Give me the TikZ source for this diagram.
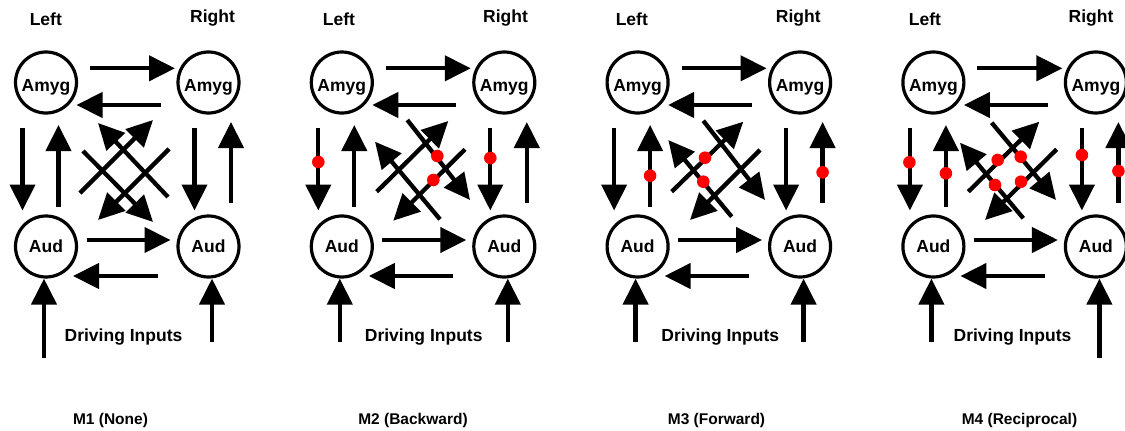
\documentclass[tikz,border=0pt]{standalone}
\usepackage{fontspec}
\setmainfont{Liberation Sans}
\usetikzlibrary{arrows.meta}

\tikzset{
  region/.style={circle, draw, line width=3.2pt, minimum size=61pt, inner sep=0pt,
                 text depth=0pt, font=\bfseries\fontsize{17.5}{20}\selectfont},
  amyg/.style={region, text height=18pt},
  aud/.style={region, text height=12.5pt},
  link/.style={line width=4.3pt, -{Triangle[length=26pt,width=25pt]}},
  modulation/.style={fill=red},
  heading/.style={font=\bfseries\fontsize{17.5}{20}\selectfont, anchor=base, inner sep=0pt},
  caption/.style={font=\bfseries\fontsize{15.5}{18}\selectfont, anchor=base, inner sep=0pt},
}

% Four regions with lateral and ipsilateral connections plus driving inputs.
% #1 name prefix, #2 x of the left column, #3/#4 lower ends of the input arrows
\newcommand\modelcore[4]{%
  \begin{scope}[xshift=#2pt]
    \node[amyg] (#1aL) at (0,82.5) {Amyg};
    \node[amyg] (#1aR) at (162.5,82.5) {Amyg};
    \node[aud]  (#1dL) at (0,246.5) {Aud};
    \node[aud]  (#1dR) at (162.5,246.5) {Aud};
    % interhemispheric connections
    \coordinate (#1ta) at (44,68.3);    \coordinate (#1tb) at (129,68.3);
    \coordinate (#1tc) at (114.5,105);  \coordinate (#1td) at (30.5,105);
    \coordinate (#1ba) at (40.5,240);   \coordinate (#1bb) at (124.5,240);
    \coordinate (#1bc) at (111.5,276);  \coordinate (#1bd) at (27,276);
    \draw[link] (#1ta) -- (#1tb);
    \draw[link] (#1tc) -- (#1td);
    \draw[link] (#1ba) -- (#1bb);
    \draw[link] (#1bc) -- (#1bd);
    % within-hemisphere connections
    \coordinate (#1la) at (-23.5,128);  \coordinate (#1lb) at (-23.5,210.5);
    \coordinate (#1lc) at (12.5,207);   \coordinate (#1ld) at (12.5,125);
    \coordinate (#1ra) at (148.5,128);  \coordinate (#1rb) at (148.5,210.5);
    \coordinate (#1rc) at (185,203);    \coordinate (#1rd) at (185,122);
    \draw[link] (#1la) -- (#1lb);
    \draw[link] (#1lc) -- (#1ld);
    \draw[link] (#1ra) -- (#1rb);
    \draw[link] (#1rc) -- (#1rd);
    % driving inputs
    \coordinate (#1inL) at (-2,#3);
    \coordinate (#1inR) at (166,#4);
    \draw[link] (#1inL) -- (#1inL |- #1dL.south);
    \draw[link] (#1inR) -- (#1inR |- #1dR.south);
  \end{scope}}

\begin{document}
\begin{tikzpicture}[x=1pt, y=-1pt]
\useasboundingbox (0,0) rectangle (1125,431);

% ---------------- M1 ----------------
\modelcore{p}{46}{358}{342}
\begin{scope}[xshift=46pt]
  \coordinate (pura) at (34,193);   \coordinate (purb) at (107,120);
  \coordinate (pdla) at (123,149);  \coordinate (pdlb) at (52,220);
  \coordinate (pdra) at (37,151);   \coordinate (pdrb) at (107,222);
  \coordinate (pula) at (122,197);  \coordinate (pulb) at (52,123);
  \draw[link] (pura) -- (purb);
  \draw[link] (pdla) -- (pdlb);
  \draw[link] (pdra) -- (pdrb);
  \draw[link] (pula) -- (pulb);
\end{scope}
\node[heading] at (45.8,25.5) {Left};
\node[heading] at (212.5,23) {Right};
\node[heading] at (123.5,341.5) {Driving Inputs};
\node[caption] at (110.5,424.5) {M1 (None)};

% ---------------- M2 ----------------
\modelcore{q}{341.8}{342}{342}
\begin{scope}[xshift=341.8pt]
  \coordinate (qura) at (34.9,191.7);  \coordinate (qurb) at (106.5,121);
  \coordinate (qdla) at (123.2,149.3); \coordinate (qdlb) at (51.5,220.7);
  \coordinate (qdra) at (65.5,120);    \coordinate (qdrb) at (128.2,200);
  \coordinate (qula) at (98.2,219.3);  \coordinate (qulb) at (33.2,141.7);
  \draw[link] (qura) -- (qurb);
  \draw[link] (qdla) -- (qdlb);
  \draw[link] (qdra) -- (qdrb);
  \draw[link] (qula) -- (qulb);
  \fill[modulation] (-23.5,162) circle[radius=6.3pt];
  \fill[modulation] (148.5,158) circle[radius=6.3pt];
  \fill[modulation] (95.5,156) circle[radius=6.3pt];
  \fill[modulation] (91.5,180) circle[radius=6.3pt];
\end{scope}
\node[heading] at (339,25.5) {Left};
\node[heading] at (505.5,23) {Right};
\node[heading] at (423.7,341.5) {Driving Inputs};
\node[caption] at (413,424.5) {M2 (Backward)};

% ---------------- M3 ----------------
\modelcore{r}{637.6}{342}{342}
\begin{scope}[xshift=637.6pt]
  \coordinate (rura) at (34.1,191.7);  \coordinate (rurb) at (105.7,121.7);
  \coordinate (rdla) at (122.4,150);   \coordinate (rdlb) at (52.4,220);
  \coordinate (rdra) at (65.7,120.7);  \coordinate (rdrb) at (127.4,200);
  \coordinate (rula) at (94.1,216.7);  \coordinate (rulb) at (30.7,140);
  \draw[link] (rura) -- (rurb);
  \draw[link] (rdla) -- (rdlb);
  \draw[link] (rdra) -- (rdrb);
  \draw[link] (rula) -- (rulb);
  \fill[modulation] (12.5,175.7) circle[radius=6.3pt];
  \fill[modulation] (185,172.3) circle[radius=6.3pt];
  \fill[modulation] (67.4,157.7) circle[radius=6.3pt];
  \fill[modulation] (65.7,181.7) circle[radius=6.3pt];
\end{scope}
\node[heading] at (631.8,25.5) {Left};
\node[heading] at (798.3,23) {Right};
\node[heading] at (720.3,341.5) {Driving Inputs};
\node[caption] at (716.5,424.5) {M3 (Forward)};

% ---------------- M4 ----------------
\modelcore{s}{933.4}{342}{358}
\begin{scope}[xshift=933.4pt]
  \coordinate (sura) at (34.9,191.7);  \coordinate (surb) at (105.9,121.7);
  \coordinate (sdla) at (123.3,149.3); \coordinate (sdlb) at (51.6,220);
  \coordinate (sdra) at (58.3,122.7);  \coordinate (sdrb) at (122.6,200);
  \coordinate (sula) at (89.9,218.3);  \coordinate (sulb) at (26.6,142.7);
  \draw[link] (sura) -- (surb);
  \draw[link] (sdla) -- (sdlb);
  \draw[link] (sdra) -- (sdrb);
  \draw[link] (sula) -- (sulb);
  \fill[modulation] (-24,162.3) circle[radius=6.3pt];
  \fill[modulation] (12.5,173.3) circle[radius=6.3pt];
  \fill[modulation] (148.5,155) circle[radius=6.3pt];
  \fill[modulation] (185,171) circle[radius=6.3pt];
  \fill[modulation] (64.3,160) circle[radius=6.3pt];
  \fill[modulation] (87.3,156.7) circle[radius=6.3pt];
  \fill[modulation] (61.6,185) circle[radius=6.3pt];
  \fill[modulation] (87.6,181.7) circle[radius=6.3pt];
\end{scope}
\node[heading] at (925,25.5) {Left};
\node[heading] at (1091,23) {Right};
\node[heading] at (1012.5,341.5) {Driving Inputs};
\node[caption] at (1019.5,424.5) {M4 (Reciprocal)};
\end{tikzpicture}
\end{document}
